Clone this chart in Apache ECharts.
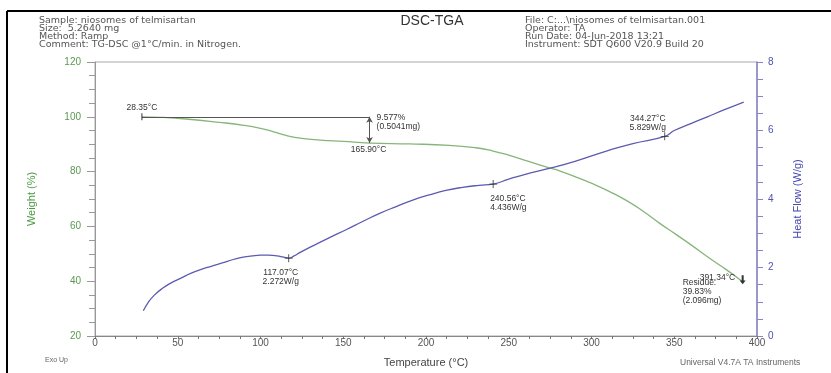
<!DOCTYPE html>
<html>
<head>
<meta charset="utf-8">
<title>DSC-TGA</title>
<script src="https://cdn.jsdelivr.net/npm/echarts@6/dist/echarts.min.js"></script>
<style>
  html, body { margin: 0; padding: 0; background: #fff; }
  #chart { width: 831px; height: 373px; }
</style>
</head>
<body>
<div id="chart"></div>
<script>
// TGA weight curve (temperature °C, weight %)
const weightTemp = [28.35, 40, 55, 75, 90, 100, 108, 116, 125, 136, 150, 165.9, 190, 214, 230, 240, 250, 262, 275, 281, 290, 301, 311, 321, 331, 341, 351, 361, 372, 381, 391.34];
const weightPct = [100.0, 99.8, 99.2, 98.0, 96.9, 95.8, 94.5, 93.1, 92.1, 91.5, 91.0, 90.42, 90.1, 89.6, 88.7, 87.6, 86.0, 83.7, 81.3, 80.2, 78.2, 75.5, 72.7, 69.5, 65.6, 61.2, 57.1, 52.9, 48.1, 44.4, 39.83];

// DSC heat flow curve (temperature °C, W/g)
const flowTemp = [29.2, 32, 36, 41, 46, 51, 60, 71, 80, 88, 95, 100, 105, 110, 114, 117.07, 120, 124, 132, 142, 152, 162, 172, 182, 192, 202, 212, 222, 232, 240.56, 250, 260, 275, 290, 309, 325, 344.27, 350, 360, 370, 380, 392];
const heatFlow = [0.74, 0.97, 1.20, 1.40, 1.55, 1.67, 1.87, 2.05, 2.18, 2.29, 2.34, 2.36, 2.36, 2.34, 2.30, 2.272, 2.33, 2.44, 2.64, 2.88, 3.11, 3.35, 3.58, 3.78, 3.97, 4.12, 4.25, 4.34, 4.40, 4.436, 4.58, 4.72, 4.90, 5.10, 5.40, 5.62, 5.829, 6.00, 6.20, 6.40, 6.60, 6.83];

// annotated points
const stepStart = [28.35, 100];
const stepEnd = [165.9, 90.42];
const stepLoss = '9.577%\n(0.5041mg)';
const residue = [391.34, 39.83];
const residueText = 'Residue:\n39.83%\n(2.096mg)';
const flowPeaks = [[117.07, 2.272], [240.56, 4.436], [344.27, 5.829]];

// header block
const headerLeft = ['Sample: niosomes of telmisartan', 'Size:  5.2640 mg', 'Method: Ramp', 'Comment: TG-DSC @1°C/min. in Nitrogen.'];
const headerRight = ['File: C:...\\niosomes of telmisartan.001', 'Operator: TA', 'Run Date: 04-Jun-2018 13:21', 'Instrument: SDT Q600 V20.9 Build 20'];

// axis ticks
const xTicks = { min: 0, max: 400, interval: 50 };
const weightTicks = { min: 20, max: 120, interval: 20 };
const flowTicks = { min: 0, max: 8, interval: 2 };

const FONT = 'Liberation Sans, Arial, sans-serif';
const GREEN = '#86b57a';
const BLUE = '#5b5bb0';

const chart = echarts.init(document.getElementById('chart'));

const plus = 'path://M0,4.5h10v1h-10zM4.5,0h1v10h-1z';
const bar = 'path://M0,0h1v10h-1z';
const downArrow = 'path://M2,0h2v6h2l-3,4l-3,-4h2z';

const annLabel = {
  show: true,
  color: '#333',
  fontSize: 8.5,
  fontFamily: FONT,
  lineHeight: 9,
  position: 'inside'
};

const headerText = (lines, x) => ({
  type: 'text',
  left: x,
  top: 16,
  style: {
    text: lines.join('\n'),
    font: '9.5px DejaVu Sans',
    lineHeight: 8,
    fill: '#555'
  }
});

const peakLabel = p => p[0].toFixed(2) + '°C\n' + p[1].toFixed(3) + 'W/g';

const options = {
  animation: false,
  textStyle: { fontFamily: FONT },
  grid: {
    left: 95,
    right: 74,
    top: 62,
    bottom: 31,
    show: true,
    borderColor: '#aaa',
    borderWidth: 1,
    containLabel: false
  },
  graphic: [
    { type: 'line', shape: { x1: 7, y1: 11, x2: 831, y2: 11 }, style: { stroke: '#000', lineWidth: 2 } },
    { type: 'line', shape: { x1: 7, y1: 11, x2: 7, y2: 373 }, style: { stroke: '#000', lineWidth: 2 } },
    headerText(headerLeft, 39),
    headerText(headerRight, 525),
    {
      type: 'text',
      x: 432,
      y: 21,
      style: { text: 'DSC-TGA', font: '14px Liberation Sans', fill: '#333', textAlign: 'center', textVerticalAlign: 'middle' }
    },
    {
      type: 'text',
      left: 45,
      top: 357,
      style: { text: 'Exo Up', font: '7px Liberation Sans', fill: '#666' }
    },
    {
      type: 'text',
      left: 680,
      top: 358,
      style: { text: 'Universal V4.7A TA Instruments', font: '8.5px Liberation Sans', fill: '#666' }
    }
  ],
  xAxis: {
    type: 'value',
    ...xTicks,
    name: 'Temperature (°C)',
    nameLocation: 'middle',
    nameGap: 21,
    nameTextStyle: { color: '#444', fontSize: 11, fontFamily: FONT },
    axisLine: { lineStyle: { color: '#888', width: 1 } },
    axisTick: { length: 3, lineStyle: { color: '#777' } },
    minorTick: { show: true, splitNumber: 4, length: 3, lineStyle: { color: '#777' } },
    splitLine: { show: false },
    axisLabel: { color: '#555', fontSize: 10, margin: 2, fontFamily: FONT }
  },
  yAxis: [
    {
      type: 'value',
      position: 'left',
      ...weightTicks,
      name: 'Weight (%)',
      nameLocation: 'middle',
      nameGap: 58,
      nameTextStyle: { color: '#4a9a40', fontSize: 11, fontFamily: FONT },
      axisLine: { show: true, lineStyle: { color: '#999' } },
      axisTick: { show: true, length: 8, lineStyle: { color: '#999' } },
      minorTick: { show: true, splitNumber: 4, length: 6, lineStyle: { color: '#999' } },
      splitLine: { show: false },
      axisLabel: { color: '#5a9a50', fontSize: 10, margin: 14, fontFamily: FONT }
    },
    {
      type: 'value',
      position: 'right',
      ...flowTicks,
      name: 'Heat Flow (W/g)',
      nameLocation: 'middle',
      nameGap: 35,
      nameTextStyle: { color: '#4545b0', fontSize: 11, fontFamily: FONT },
      axisLine: { show: true, lineStyle: { color: '#8585c8', width: 1.5 } },
      axisTick: { show: true, length: 6, lineStyle: { color: '#8585c8' } },
      minorTick: { show: true, splitNumber: 4, length: 6, lineStyle: { color: '#8585c8' } },
      splitLine: { show: false },
      axisLabel: { color: '#5050b0', fontSize: 10, margin: 11, fontFamily: FONT }
    }
  ],
  series: [
    {
      name: 'Weight',
      type: 'line',
      yAxisIndex: 0,
      data: weightTemp.map((t, i) => [t, weightPct[i]]),
      showSymbol: false,
      smooth: 0.5,
      lineStyle: { color: GREEN, width: 1.3 },
      itemStyle: { color: GREEN },
      markLine: {
        silent: true,
        animation: false,
        label: { show: false },
        lineStyle: { color: '#555', width: 1, type: 'solid' },
        data: [
          [
            { coord: stepStart, symbol: 'none' },
            { coord: [stepEnd[0], stepStart[1]], symbol: 'none' }
          ],
          [
            { coord: [stepEnd[0], stepStart[1]], symbol: 'arrow', symbolSize: [5, 6] },
            { coord: stepEnd, symbol: 'arrow', symbolSize: [5, 6] }
          ]
        ]
      },
      markPoint: {
        silent: true,
        animation: false,
        itemStyle: { color: '#333' },
        data: [
          {
            coord: stepStart, symbol: bar, symbolSize: [1, 7],
            label: { ...annLabel, formatter: stepStart[0].toFixed(2) + '°C', offset: [0, -9] }
          },
          {
            coord: [stepEnd[0], stepStart[1]], symbolSize: 0,
            label: { ...annLabel, formatter: stepLoss, align: 'left', offset: [7, 5.5] }
          },
          {
            coord: stepEnd, symbolSize: 0,
            label: { ...annLabel, formatter: stepEnd[0].toFixed(2) + '°C', offset: [-1, 7] }
          },
          {
            coord: residue, symbol: downArrow, symbolSize: [6, 9], symbolOffset: [0, -2],
            label: { ...annLabel, formatter: residue[0].toFixed(2) + '°C', align: 'left', offset: [-43, -2] }
          },
          {
            coord: residue, symbolSize: 0,
            label: { ...annLabel, formatter: residueText, align: 'left', offset: [-60, 10] }
          }
        ]
      }
    },
    {
      name: 'Heat Flow',
      type: 'line',
      yAxisIndex: 1,
      data: flowTemp.map((t, i) => [t, heatFlow[i]]),
      showSymbol: false,
      smooth: 0.5,
      lineStyle: { color: BLUE, width: 1.3 },
      itemStyle: { color: BLUE },
      markPoint: {
        silent: true,
        animation: false,
        symbol: plus,
        symbolSize: 8,
        itemStyle: { color: '#333' },
        data: [
          {
            coord: flowPeaks[0],
            label: { ...annLabel, formatter: peakLabel(flowPeaks[0]), offset: [-8, 19] }
          },
          {
            coord: flowPeaks[1],
            label: { ...annLabel, formatter: peakLabel(flowPeaks[1]), align: 'left', offset: [-3, 19] }
          },
          {
            coord: flowPeaks[2],
            label: { ...annLabel, formatter: peakLabel(flowPeaks[2]), offset: [-17, -13] }
          }
        ]
      }
    }
  ]
};

chart.setOption(options);

window.addEventListener('resize', () => chart.resize());
</script>
</body>
</html>
